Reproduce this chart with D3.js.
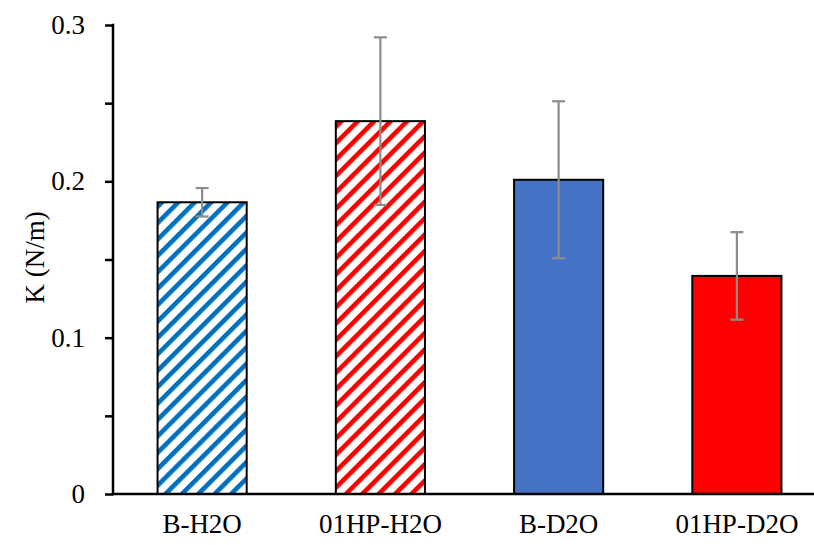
<!DOCTYPE html>
<html>
<head>
<meta charset="utf-8">
<script src="https://cdn.jsdelivr.net/npm/d3@7"></script>
<style>
  html, body { margin: 0; padding: 0; background: #fff; }
  svg { display: block; }
  text { font-family: "Liberation Serif", "Times New Roman", serif; }
</style>
</head>
<body>
<div id="chart"></div>
<script>
// ---- data ----
const categories = ["B-H2O", "01HP-H2O", "B-D2O", "01HP-D2O"];
const values = [0.1866, 0.2385, 0.2010, 0.1395];
const errors = [0.0091, 0.0536, 0.0502, 0.0280];
const yTickValues = [0, 0.05, 0.1, 0.15, 0.2, 0.25, 0.3];
const yTickLabels = ["0", "", "0.1", "", "0.2", "", "0.3"];
const yTitle = "K (N/m)";

// ---- styles ----
const barStyles = [
  { hatch: true, color: "#0070C0" },
  { hatch: true, color: "#FF0000" },
  { hatch: false, color: "#4472C4" },
  { hatch: false, color: "#FF0000" }
];
const FONT = '"Liberation Serif", "Times New Roman", serif';
const FS = "27px";

const W = 814, H = 545;
const svg = d3.select("#chart").append("svg").attr("width", W).attr("height", H);

const x = d3.scaleBand().domain(categories).range([113, 826]).paddingInner(0.5).paddingOuter(0.25);
const y = d3.scaleLinear().domain([0, 0.3]).range([494, 25]);

// hatch patterns
const defs = svg.append("defs");
const P = 11.6;
barStyles.forEach((s, i) => {
  if (!s.hatch) return;
  const pat = defs.append("pattern")
    .attr("id", "hatch" + i)
    .attr("patternUnits", "userSpaceOnUse")
    .attr("width", P).attr("height", P)
    .attr("patternTransform", "rotate(-45)");
  pat.append("rect").attr("width", P).attr("height", P).attr("fill", "#fff");
  pat.append("rect").attr("width", P).attr("height", P * 0.4).attr("fill", s.color);
});

const data = categories.map((c, i) => ({ c, v: values[i], e: errors[i], s: barStyles[i], i }));

// bars
svg.append("g").selectAll("rect").data(data).join("rect")
  .attr("x", d => x(d.c))
  .attr("y", d => y(d.v))
  .attr("width", x.bandwidth())
  .attr("height", d => y(0) - y(d.v))
  .attr("fill", d => d.s.hatch ? `url(#hatch${d.i})` : d.s.color)
  .attr("stroke", "#000")
  .attr("stroke-width", 2);

// error bars
const eb = svg.append("g").attr("stroke", "#8C8C8C").attr("stroke-width", 2.2);
const cx = d => x(d.c) + x.bandwidth() / 2;
eb.selectAll("line.v").data(data).join("line").attr("class", "v")
  .attr("x1", cx).attr("x2", cx)
  .attr("y1", d => y(d.v + d.e)).attr("y2", d => y(d.v - d.e));
eb.selectAll("line.t").data(data).join("line").attr("class", "t")
  .attr("x1", d => cx(d) - 6.5).attr("x2", d => cx(d) + 6.5)
  .attr("y1", d => y(d.v + d.e)).attr("y2", d => y(d.v + d.e));
eb.selectAll("line.b").data(data).join("line").attr("class", "b")
  .attr("x1", d => cx(d) - 6.5).attr("x2", d => cx(d) + 6.5)
  .attr("y1", d => y(d.v - d.e)).attr("y2", d => y(d.v - d.e));

// y axis
const yAxis = d3.axisLeft(y)
  .tickValues(yTickValues)
  .tickSize(8)
  .tickPadding(20)
  .tickFormat((d, i) => yTickLabels[i]);
const gy = svg.append("g").attr("transform", "translate(113,0)").call(yAxis);
gy.attr("font-family", null).attr("font-size", null);
gy.select(".domain").remove();
gy.selectAll(".tick line").attr("stroke", "#000").attr("stroke-width", 2.5);
gy.append("line").attr("x1", 0).attr("x2", 0).attr("y1", y(0.3) - 1.25).attr("y2", y(0) + 1.25)
  .attr("stroke", "#000").attr("stroke-width", 2.5);
gy.selectAll(".tick text")
  .attr("fill", "#000")
  .style("font-family", FONT)
  .style("font-size", FS);

// x axis
const xAxis = d3.axisBottom(x).tickSize(0).tickPadding(20);
const gx = svg.append("g").attr("transform", `translate(0,${y(0)})`).call(xAxis);
gx.attr("font-family", null).attr("font-size", null);
gx.select(".domain").remove();
gx.append("line").attr("x1", 113).attr("x2", W).attr("y1", 0).attr("y2", 0)
  .attr("stroke", "#000").attr("stroke-width", 2.5);
gx.selectAll(".tick text")
  .attr("fill", "#000")
  .style("font-family", FONT)
  .style("font-size", FS);

// y title
svg.append("text")
  .attr("transform", `translate(44,${(y(0) + y(0.3)) / 2 - 2}) rotate(-90)`)
  .attr("text-anchor", "middle")
  .style("font-family", FONT)
  .style("font-size", FS)
  .attr("fill", "#000")
  .text(yTitle);
</script>
</body>
</html>
